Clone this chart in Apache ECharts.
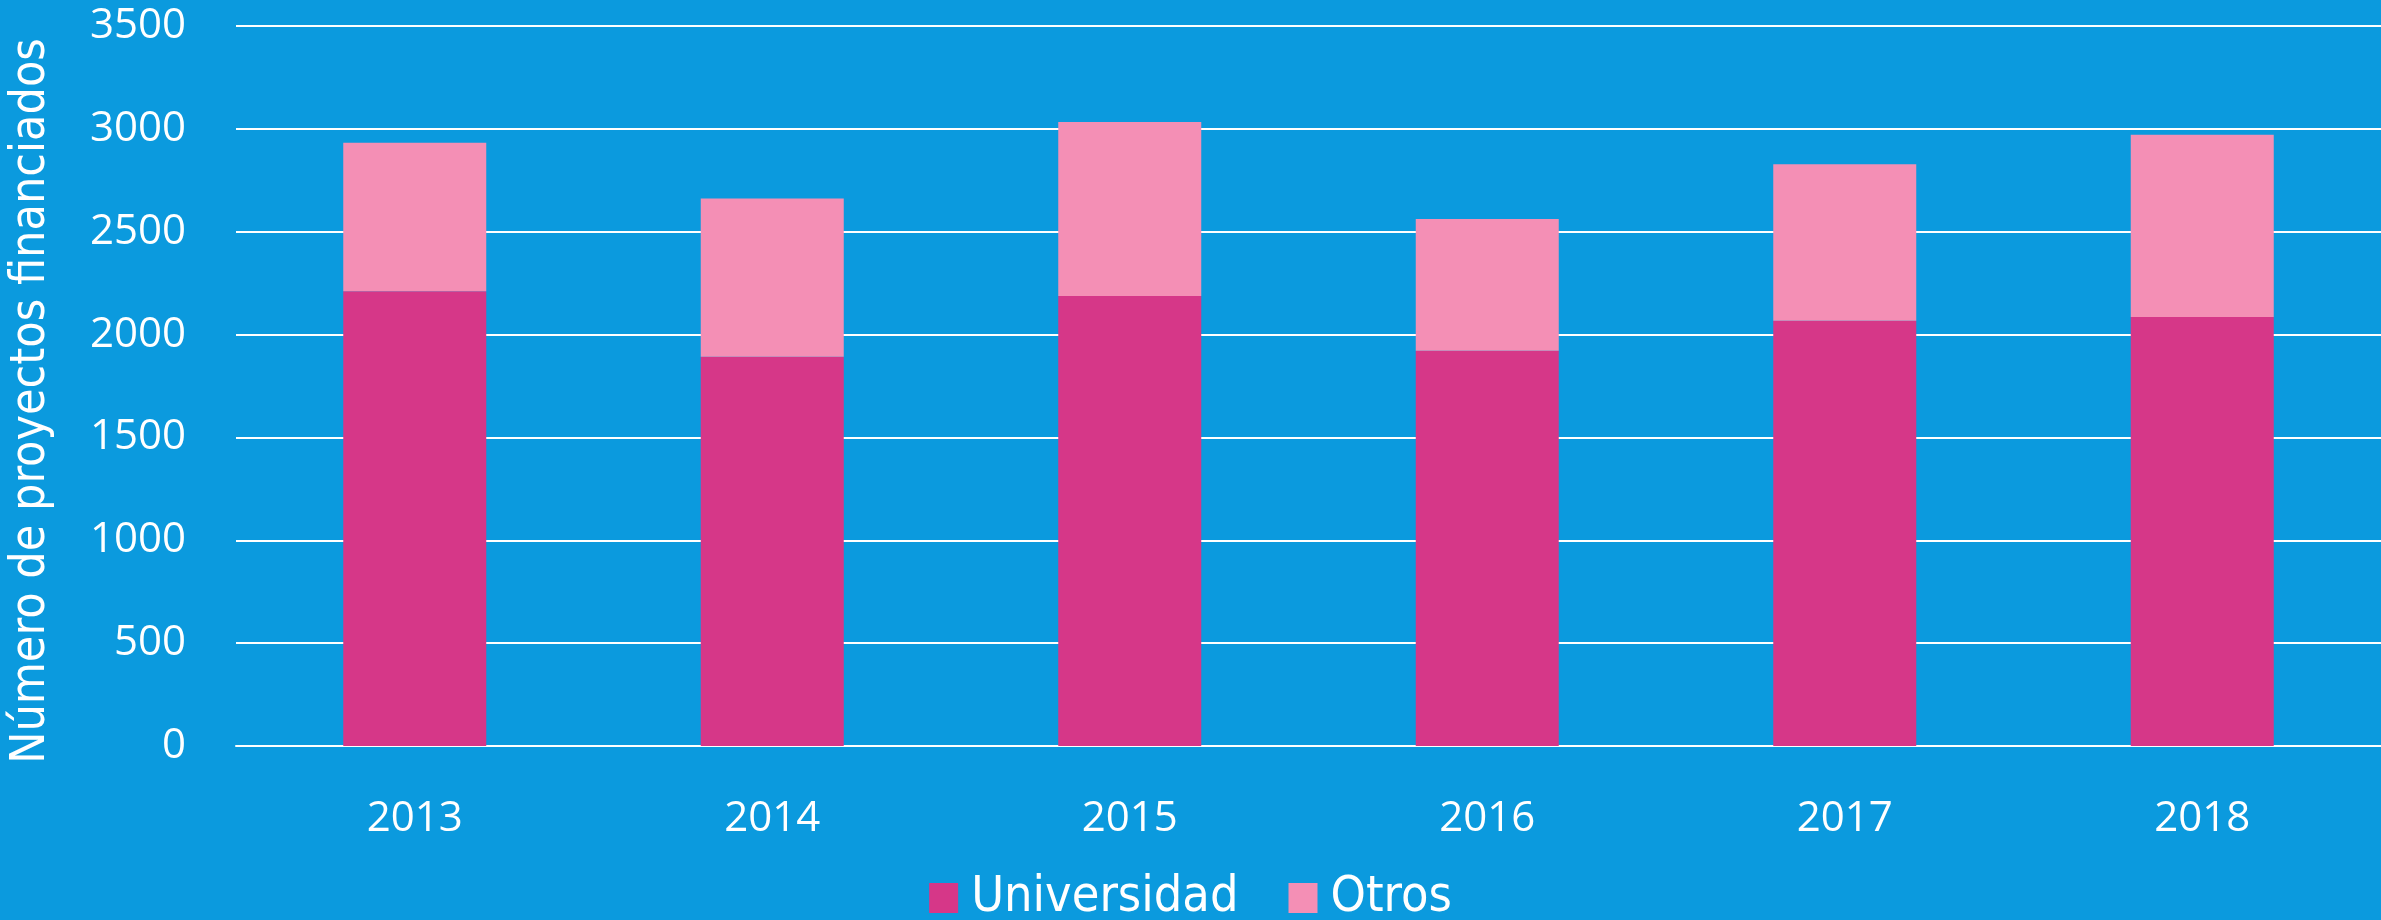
<!DOCTYPE html>
<html>
<head>
<meta charset="utf-8">
<script src="https://cdn.jsdelivr.net/npm/echarts@6/dist/echarts.min.js"></script>
<style>
html,body{margin:0;padding:0;background:#0B9ADE;}
#chart{width:2381px;height:920px;}
</style>
</head>
<body>
<div id="chart"></div>
<script>
const years = ['2013','2014','2015','2016','2017','2018'];
const universidad = [2211, 1892, 2187, 1921, 2067, 2086];
const otros = [722, 769, 846, 641, 761, 885];
const yTicks = { min: 0, max: 3500, interval: 500 };
const yTitle = 'Número de proyectos financiados';
const seriesNames = ['Universidad', 'Otros'];

const chart = echarts.init(document.getElementById('chart'), null, {renderer: 'canvas'});
const numFont = '"Open Sans", Lato, sans-serif';
const narrowFont = '"Liberation Sans Narrow", "DejaVu Sans Condensed", "Noto Sans", sans-serif';
chart.setOption({
  backgroundColor: '#0B9ADE',
  animation: false,
  grid: { left: 232, right: 0, top: 26, bottom: 174, containLabel: false },
  legend: {
    data: seriesNames,
    bottom: -8,
    left: 'center',
    itemWidth: 29,
    itemHeight: 30,
    itemGap: 50,
    icon: 'rect',
    textStyle: { color: '#ffffff', fontSize: 50, fontFamily: narrowFont, padding: [0, 0, 0, 8] }
  },
  xAxis: {
    type: 'category',
    data: years,
    axisLine: { show: true, lineStyle: { color: '#ffffff', width: 2 } },
    axisTick: { show: false },
    axisLabel: { color: '#ffffff', fontSize: 42, fontFamily: numFont, margin: 52 }
  },
  yAxis: {
    type: 'value',
    min: yTicks.min, max: yTicks.max, interval: yTicks.interval,
    name: yTitle,
    nameLocation: 'middle',
    nameGap: 180,
    nameTextStyle: { color: '#ffffff', fontSize: 48, fontFamily: narrowFont, padding: [0, 0, 0, -30] },
    axisLine: { show: false },
    axisTick: { show: false },
    axisLabel: { color: '#ffffff', fontSize: 42, fontFamily: numFont, margin: 50,
      formatter: function (v) { return String(v); } },
    splitLine: { show: true, lineStyle: { color: '#ffffff', width: 2 } }
  },
  series: [
    { name: seriesNames[0], type: 'bar', stack: 'total', data: universidad, barWidth: '40%',
      itemStyle: { color: '#D63788' } },
    { name: seriesNames[1], type: 'bar', stack: 'total', data: otros, barWidth: '40%',
      itemStyle: { color: '#F48FB5' } }
  ]
});
</script>
</body>
</html>
